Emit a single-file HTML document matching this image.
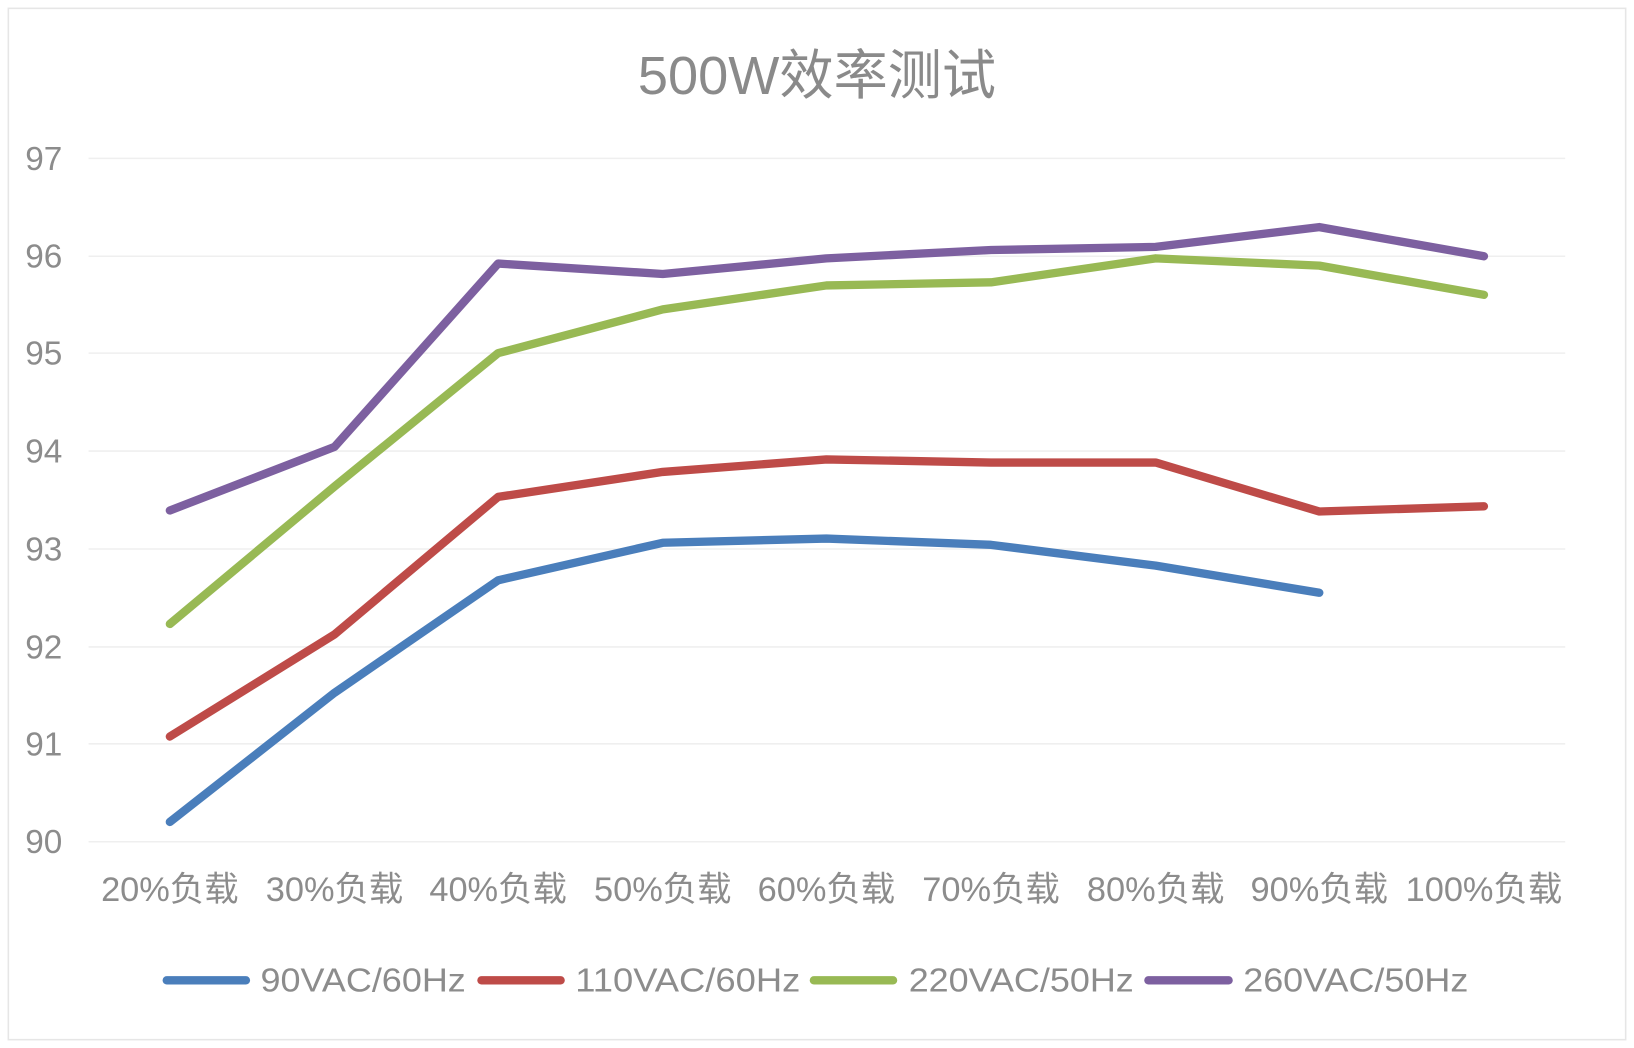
<!DOCTYPE html>
<html><head><meta charset="utf-8"><style>html,body{margin:0;padding:0;background:#fff}svg{display:block}</style></head>
<body>
<svg width="1634" height="1048" viewBox="0 0 1568 1006" preserveAspectRatio="none" xmlns="http://www.w3.org/2000/svg" font-family="'Liberation Sans','Noto Sans CJK SC',sans-serif" fill="#8c8c8c">
<rect x="8" y="8" width="1552" height="990" fill="#fff" stroke="#e6e6e6" stroke-width="1.5"/>
<text x="784" y="90" font-size="52" text-anchor="middle" fill="#8a8a8a">500W效率测试</text>
<g stroke="#efefef" stroke-width="1.5">
<line x1="85" x2="1502" y1="152" y2="152"/><line x1="85" x2="1502" y1="246" y2="246"/><line x1="85" x2="1502" y1="339" y2="339"/><line x1="85" x2="1502" y1="433" y2="433"/><line x1="85" x2="1502" y1="527" y2="527"/><line x1="85" x2="1502" y1="621" y2="621"/><line x1="85" x2="1502" y1="714" y2="714"/><line x1="85" x2="1502" y1="808" y2="808"/>
</g>
<g font-size="32" text-anchor="middle">
<text x="42" y="163">97</text><text x="42" y="257">96</text><text x="42" y="350">95</text><text x="42" y="444">94</text><text x="42" y="538">93</text><text x="42" y="632">92</text><text x="42" y="725">91</text><text x="42" y="819">90</text>
</g>
<g font-size="33" text-anchor="middle">
<text x="163" y="865">20%负载</text><text x="321" y="865">30%负载</text><text x="478" y="865">40%负载</text><text x="636" y="865">50%负载</text><text x="793" y="865">60%负载</text><text x="951" y="865">70%负载</text><text x="1109" y="865">80%负载</text><text x="1266" y="865">90%负载</text><text x="1424" y="865">100%负载</text>
</g>
<g fill="none" stroke-width="8" stroke-linecap="round" stroke-linejoin="round">
<polyline stroke="#4a7ebb" points="163,789 321,665 478,557 636,521 793,517 951,523 1109,543 1266,569"/>
<polyline stroke="#be4b48" points="163,707 321,609 478,477 636,453 793,441 951,444 1109,444 1266,491 1424,486"/>
<polyline stroke="#98b954" points="163,599 321,467 478,339 636,297 793,274 951,271 1109,248 1266,255 1424,283"/>
<polyline stroke="#7d60a0" points="163,490 321,429 478,253 636,263 793,248 951,240 1109,237 1266,218 1424,246"/>
<line stroke="#4a7ebb" x1="160" x2="236" y1="941" y2="941"/>
<line stroke="#be4b48" x1="462" x2="538" y1="941" y2="941"/>
<line stroke="#98b954" x1="781" x2="857" y1="941" y2="941"/>
<line stroke="#7d60a0" x1="1102" x2="1179" y1="941" y2="941"/>
</g>
<g font-size="32">
<text x="250" y="952" textLength="197" lengthAdjust="spacingAndGlyphs">90VAC/60Hz</text><text x="552" y="952" textLength="216" lengthAdjust="spacingAndGlyphs">110VAC/60Hz</text><text x="872" y="952" textLength="216" lengthAdjust="spacingAndGlyphs">220VAC/50Hz</text><text x="1193" y="952" textLength="216" lengthAdjust="spacingAndGlyphs">260VAC/50Hz</text>
</g>
</svg>
</body></html>
